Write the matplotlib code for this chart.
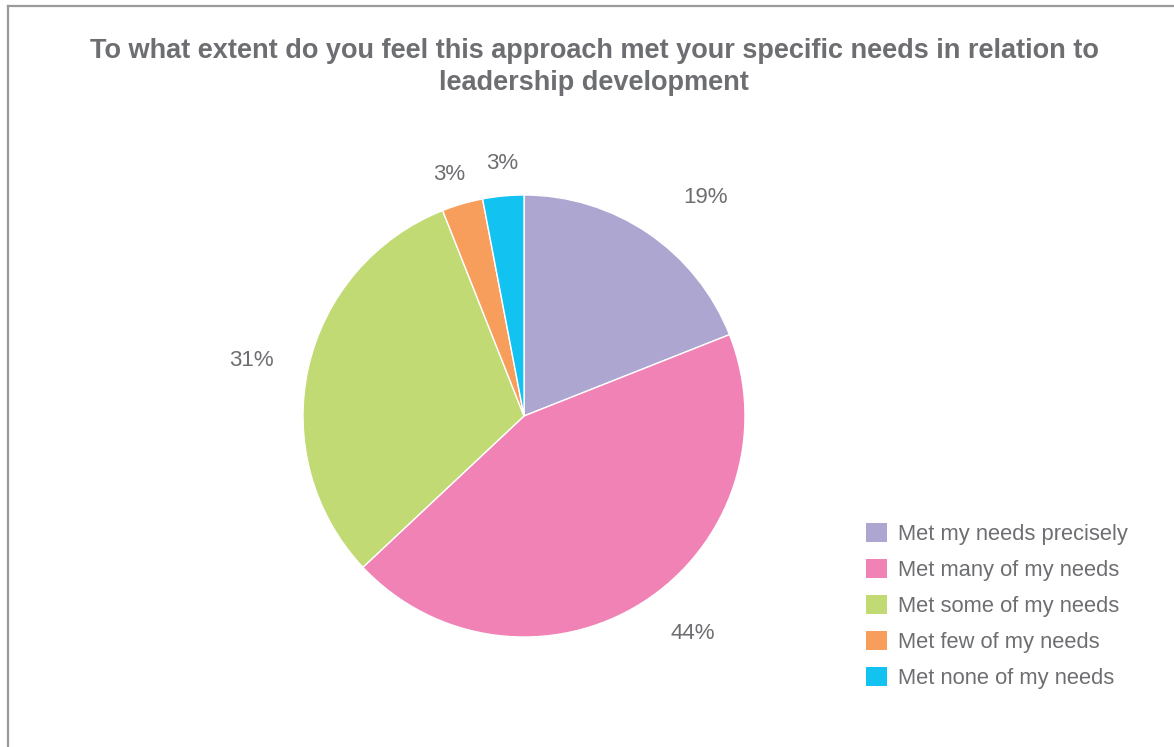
import matplotlib
matplotlib.use('Agg')
import matplotlib.pyplot as plt
import numpy as np
from matplotlib.lines import Line2D
from matplotlib.patches import Patch

# data
categories = [
    'Met my needs precisely',
    'Met many of my needs',
    'Met some of my needs',
    'Met few of my needs',
    'Met none of my needs',
]
shares = [19, 44, 31, 3, 3]
colors = ['#ada6d1', '#f182b5', '#c1da74', '#f89e5c', '#12c2f1']
title = ('To what extent do you feel this approach met your specific needs in relation to\n'
         'leadership development')

TEXT = '#6d6e71'
W, H = 1174, 747
# label placement: radius multiple and angle nudge (deg, ccw) per slice
label_dist = [1.285, 1.248, 1.257, 1.146, 1.145]
label_nudge = [-5.4, 5.4, 1.0, 1.0, -0.4]

plt.rcParams['font.family'] = ['Liberation Sans', 'DejaVu Sans']

fig = plt.figure(figsize=(W / 100, H / 100), dpi=100)

# frame lines (left and top only visible in reference)
fig.add_artist(Line2D([7.5 / W, 7.5 / W], [0, 1 - 6 / H], transform=fig.transFigure,
                      color='#9a9a9a', lw=1.6))
fig.add_artist(Line2D([7.5 / W, 1], [1 - 6 / H, 1 - 6 / H], transform=fig.transFigure,
                      color='#9a9a9a', lw=1.6))

fig.text(594 / W, 1 - 67 / H, title, ha='center', va='center', fontsize=19.5,
         fontweight='bold', color=TEXT, linespacing=1.28)

cx, cy, r = 524, 416, 221
ax = fig.add_axes([(cx - r) / W, (H - cy - r) / H, 2 * r / W, 2 * r / H])
wedges, _ = ax.pie(shares, colors=colors, startangle=90, counterclock=False,
                   wedgeprops=dict(edgecolor='white', linewidth=1))
ax.set_xlim(-1, 1)
ax.set_ylim(-1, 1)
ax.set_aspect('equal')
ax.axis('off')

for w, val, d, nudge in zip(wedges, shares, label_dist, label_nudge):
    ang = np.deg2rad((w.theta1 + w.theta2) / 2 + nudge)
    ax.text(d * np.cos(ang), d * np.sin(ang), f'{val}%', ha='center', va='center',
            fontsize=16, color=TEXT, clip_on=False)

handles = [Patch(facecolor=c, edgecolor='none') for c in colors]
fig.legend(handles, categories, loc='upper left', bbox_to_anchor=(866 / W, 1 - 523 / H),
           frameon=False, fontsize=15.75, labelcolor=TEXT, handlelength=0.95, handleheight=0.95,
           handletextpad=0.5, labelspacing=0.64, borderpad=0, borderaxespad=0)

fig.savefig('out.png', dpi=100, facecolor='white')
